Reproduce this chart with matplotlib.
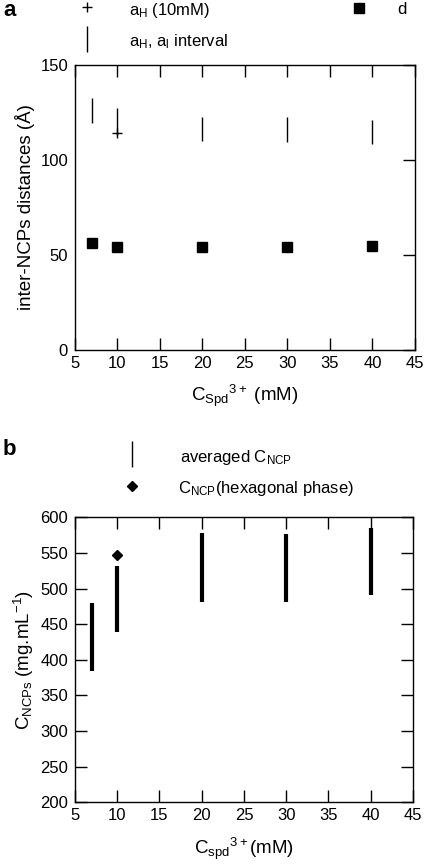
import matplotlib
matplotlib.use("Agg")
import matplotlib.pyplot as plt
from matplotlib.lines import Line2D

plt.rcParams['font.family'] = ['Liberation Sans', 'DejaVu Sans']
plt.rcParams['mathtext.fontset'] = 'custom'
plt.rcParams['mathtext.rm'] = 'Liberation Sans'
plt.rcParams['mathtext.it'] = 'Liberation Sans'
plt.rcParams['mathtext.bf'] = 'Liberation Sans:bold'

# ---- data panel a ----
conc_a = [7, 10, 20, 30, 40]
interval_low = [119.5, 113.2, 110.0, 109.5, 108.4]
interval_high = [132.6, 127.4, 122.6, 122.6, 121.0]
aH10_x = [10]
aH10_y = [114.0]
d_vals = [56.5, 54.4, 54.0, 54.4, 54.7]

# ---- data panel b ----
conc_b = [7, 10, 20, 30, 40]
cncp_low = [384.7, 438.6, 481.5, 481.5, 491.0]
cncp_high = [480.0, 532.0, 577.5, 576.8, 584.6]
hex_x = [10]
hex_y = [547.0]

xticks = [5, 10, 15, 20, 25, 30, 35, 40, 45]

fig = plt.figure(figsize=(4.27, 8.67), dpi=100)
fs = 12
lfs = 13.5

def style(ax, left_ticks):
    ax.set_xlim(5, 45)
    ax.set_xticks(xticks)
    ax.tick_params(axis='x', direction='in', top=True, bottom=True, length=8.5,
                   width=1, labelsize=fs, pad=4)
    ax.tick_params(axis='y', direction='in', left=left_ticks, right=True, length=8.5,
                   width=1, labelsize=fs, labelleft=True, pad=5)
    for s in ax.spines.values():
        s.set_linewidth(1)

# panel a
ax1 = fig.add_axes([0.1756, 0.5963, 0.796, 0.3287])
ax1.vlines(conc_a, interval_low, interval_high, color='black', lw=1)
ax1.plot(aH10_x, aH10_y, linestyle='none', marker='+', color='black', markersize=7, mew=1)
ax1.plot(conc_a, d_vals, linestyle='none', marker='s', color='black', markersize=6.5)
ax1.set_ylim(0, 150)
ax1.set_yticks([0, 50, 100, 150])
style(ax1, False)
ax1.set_ylabel('inter-NCPs distances (Å)', fontsize=lfs, labelpad=4)
ax1.set_xlabel(r'C$_{\rm Spd}$$^{3+}$ (mM)', fontsize=lfs, labelpad=9)

# panel b
ax2 = fig.add_axes([0.1756, 0.0746, 0.7916, 0.3287])
ax2.vlines(conc_b, cncp_low, cncp_high, color='black', lw=3)
ax2.plot(hex_x, hex_y, linestyle='none', marker='D', color='black', markersize=5)
ax2.set_ylim(200, 600)
ax2.set_yticks(range(200, 601, 50))
style(ax2, True)
ax2.set_ylabel(r'C$_{\rm NCPs}$ (mg.mL$^{-1}$)', fontsize=lfs, labelpad=3)
ax2.set_xlabel(r'C$_{\rm spd}$$^{3+}$(mM)', fontsize=lfs, labelpad=9)

# panel letters
fig.text(3 / 427, 1 - 10 / 867, 'a', fontsize=16, fontweight='bold', va='center', ha='left')
fig.text(3 / 427, 1 - 450 / 867, 'b', fontsize=16, fontweight='bold', va='center', ha='left')

def key(x, y, **kw):
    fig.add_artist(Line2D([x / 427], [1 - y / 867], transform=fig.transFigure,
                          linestyle='none', color='black', **kw))

def label(x, y, s):
    fig.text(x / 427, 1 - y / 867, s, fontsize=fs, va='center', ha='left')

# legend panel a
key(87, 7, marker='+', markersize=7, mew=1)
label(129, 10, r'a$_{\rm H}$ (10mM)')
key(87, 39, marker='|', markersize=19, mew=1)
label(129, 42, r'a$_{\rm H}$, a$_{\rm l}$ interval')
key(359, 8, marker='s', markersize=6.5)
label(397, 9, 'd')

# legend panel b
key(132, 454, marker='|', markersize=19, mew=1)
label(180, 458, r'averaged C$_{\rm NCP}$')
key(132, 486, marker='D', markersize=5)
label(178, 489, r'C$_{\rm NCP}$(hexagonal phase)')

fig.savefig('out.png', dpi=100)
